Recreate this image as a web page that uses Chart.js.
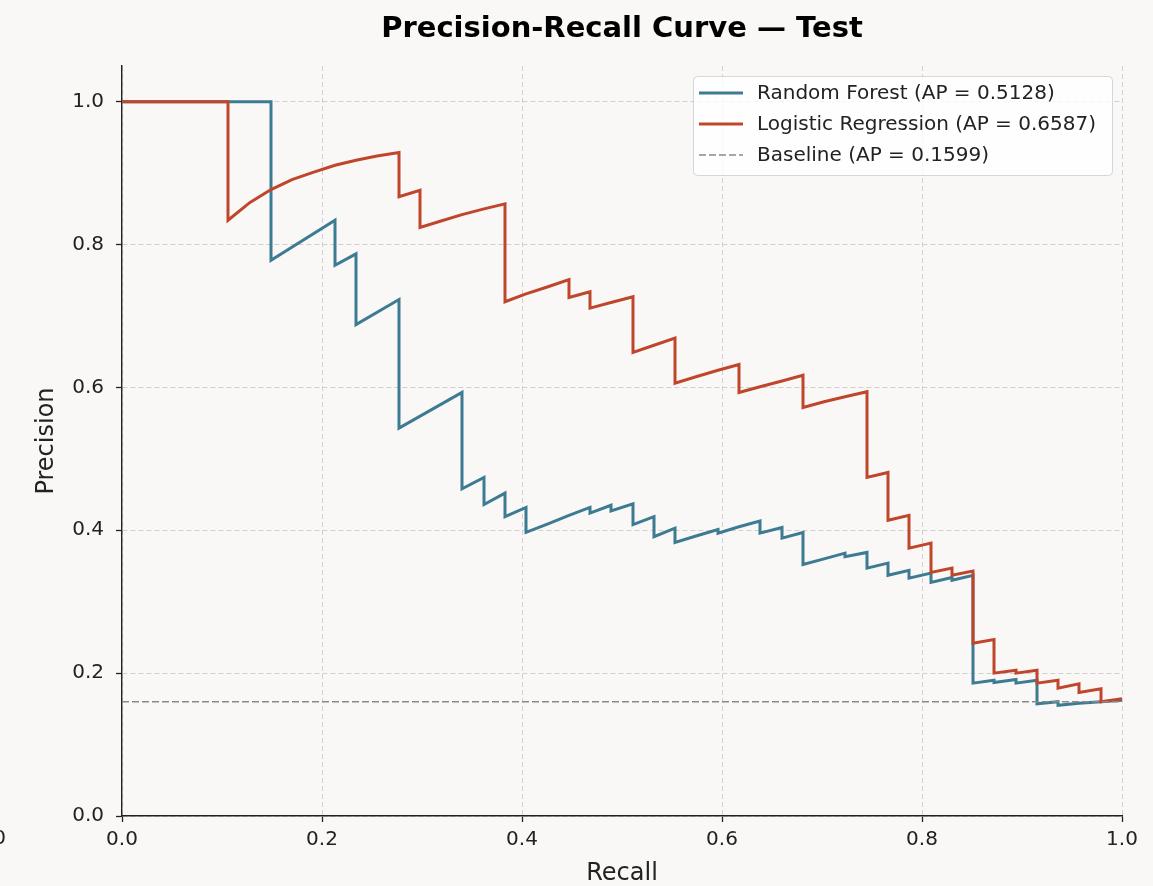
<!DOCTYPE html>
<html>
<head>
<meta charset="utf-8">
<title>Precision-Recall Curve — Test</title>
<script src="https://cdn.jsdelivr.net/npm/chart.js@4.4.1/dist/chart.umd.min.js"></script>
<style>
  html, body { margin: 0; padding: 0; background: #f9f8f7; }
  #prChart { display: block; }
</style>
</head>
<body>
<canvas id="prChart" width="1153" height="886"></canvas>
<script>
// Values
const xTickValues = [0, 0.2, 0.4, 0.6, 0.8, 1.0];
const yTickValues = [0, 0.2, 0.4, 0.6, 0.8, 1.0];

const rfLabel = 'Random Forest (AP = 0.5128)';
const rfRecall = [0, 0.149, 0.149, 0.213, 0.213, 0.234, 0.234, 0.277, 0.277, 0.340, 0.340, 0.362, 0.362,
  0.383, 0.383, 0.404, 0.404, 0.426, 0.447, 0.468, 0.468, 0.489, 0.489, 0.511, 0.511, 0.532, 0.532,
  0.553, 0.553, 0.574, 0.596, 0.596, 0.617, 0.638, 0.638, 0.660, 0.660, 0.681, 0.681, 0.702, 0.723,
  0.723, 0.745, 0.745, 0.766, 0.766, 0.787, 0.787, 0.809, 0.809, 0.830, 0.830, 0.851, 0.851, 0.872,
  0.872, 0.894, 0.894, 0.915, 0.915, 0.936, 0.936, 0.957, 0.979, 1.0];
const rfPrecision = [1.0, 1.0, 0.778, 0.834, 0.771, 0.787, 0.688, 0.723, 0.543, 0.593, 0.458, 0.474, 0.436,
  0.452, 0.419, 0.432, 0.397, 0.409, 0.421, 0.432, 0.424, 0.435, 0.427, 0.437, 0.408, 0.419, 0.391,
  0.403, 0.383, 0.392, 0.401, 0.396, 0.405, 0.413, 0.396, 0.404, 0.389, 0.397, 0.352, 0.360, 0.368,
  0.363, 0.369, 0.347, 0.354, 0.337, 0.344, 0.333, 0.340, 0.327, 0.334, 0.330, 0.337, 0.186, 0.190,
  0.187, 0.191, 0.186, 0.190, 0.157, 0.160, 0.155, 0.158, 0.160, 0.162];

const lrLabel = 'Logistic Regression (AP = 0.6587)';
const lrRecall = [0, 0.106, 0.106, 0.128, 0.149, 0.170, 0.191, 0.213, 0.234, 0.255, 0.277, 0.277, 0.298,
  0.298, 0.319, 0.340, 0.362, 0.383, 0.383, 0.404, 0.426, 0.447, 0.447, 0.468, 0.468, 0.489, 0.511,
  0.511, 0.532, 0.553, 0.553, 0.574, 0.596, 0.617, 0.617, 0.638, 0.660, 0.681, 0.681, 0.702, 0.723,
  0.745, 0.745, 0.766, 0.766, 0.787, 0.787, 0.809, 0.809, 0.830, 0.830, 0.851, 0.851, 0.872, 0.872,
  0.894, 0.894, 0.915, 0.915, 0.936, 0.936, 0.957, 0.957, 0.979, 0.979, 1.0];
const lrPrecision = [1.0, 1.0, 0.834, 0.859, 0.877, 0.891, 0.901, 0.911, 0.918, 0.924, 0.929, 0.867, 0.876,
  0.824, 0.833, 0.842, 0.850, 0.857, 0.720, 0.731, 0.741, 0.751, 0.726, 0.734, 0.711, 0.719, 0.727,
  0.649, 0.659, 0.669, 0.606, 0.615, 0.624, 0.632, 0.593, 0.601, 0.609, 0.617, 0.572, 0.580, 0.587,
  0.594, 0.474, 0.481, 0.414, 0.421, 0.375, 0.382, 0.341, 0.347, 0.337, 0.343, 0.242, 0.247, 0.200,
  0.204, 0.200, 0.204, 0.186, 0.190, 0.179, 0.185, 0.173, 0.178, 0.160, 0.164];

const baseLabel = 'Baseline (AP = 0.1599)';
const baseRecall = [0, 1];
const basePrecision = [0.1599, 0.1599];

const chartTitle = 'Precision-Recall Curve — Test';
const FONT = "'DejaVu Sans', sans-serif";

function toPoints(xs, ys) {
  return xs.map((x, i) => ({ x: x, y: ys[i] }));
}

// title centred over the plot area, legend inside the plot, top right
const overlay = {
  id: 'overlay',
  afterDraw(chart) {
    const ctx = chart.ctx;
    const area = chart.chartArea;
    ctx.save();

    ctx.font = 'bold 29px ' + FONT;
    ctx.fillStyle = '#000';
    ctx.textAlign = 'center';
    ctx.textBaseline = 'middle';
    ctx.fillText(chartTitle, (area.left + area.right) / 2, 29);

    const box = { x: 693, y: 76, w: 419, h: 99 };
    ctx.beginPath();
    ctx.roundRect(box.x + 0.5, box.y + 0.5, box.w, box.h, 4);
    ctx.fillStyle = 'rgba(255,255,255,0.8)';
    ctx.fill();
    ctx.strokeStyle = '#d6d6d6';
    ctx.lineWidth = 1;
    ctx.stroke();

    ctx.font = '20px ' + FONT;
    ctx.textAlign = 'left';
    const order = [2, 1, 0];
    order.forEach((dsIndex, row) => {
      const ds = chart.data.datasets[dsIndex];
      const yy = 93 + row * 31;
      ctx.beginPath();
      ctx.setLineDash(ds.borderDash || []);
      ctx.strokeStyle = ds.borderColor;
      ctx.lineWidth = ds.borderWidth;
      ctx.moveTo(699, yy);
      ctx.lineTo(743, yy);
      ctx.stroke();
      ctx.setLineDash([]);
      ctx.fillStyle = '#222';
      ctx.fillText(ds.label, 757, yy + 1);
    });

    // clipped tick label at the left edge of the figure
    ctx.textAlign = 'right';
    ctx.font = '20px ' + FONT;
    ctx.fillStyle = '#222';
    ctx.fillText('1.0', 6, 839);
    ctx.restore();
  }
};

const bgPlugin = {
  id: 'bg',
  beforeDraw(chart) {
    const ctx = chart.ctx;
    ctx.save();
    ctx.fillStyle = '#f9f8f7';
    ctx.fillRect(0, 0, chart.width, chart.height);
    ctx.restore();
  }
};

const gridOpts = {
  color: '#d0d0d0',
  tickColor: '#222',
  tickLength: 6,
  tickBorderDash: [],
  tickWidth: 1.3,
  lineWidth: 1
};

const ctx = document.getElementById('prChart').getContext('2d');
new Chart(ctx, {
  type: 'scatter',
  data: {
    datasets: [
      {
        label: baseLabel,
        data: toPoints(baseRecall, basePrecision),
        showLine: true,
        borderColor: '#8a8a8a',
        borderWidth: 1.6,
        borderDash: [7, 3],
        pointRadius: 0,
        order: 0
      },
      {
        label: lrLabel,
        data: toPoints(lrRecall, lrPrecision),
        showLine: true,
        borderColor: '#c0462b',
        borderWidth: 3,
        pointRadius: 0,
        order: 1
      },
      {
        label: rfLabel,
        data: toPoints(rfRecall, rfPrecision),
        showLine: true,
        borderColor: '#3d7b93',
        borderWidth: 3,
        pointRadius: 0,
        order: 2
      }
    ]
  },
  options: {
    responsive: false,
    animation: false,
    layout: { padding: { left: 0, right: 31, top: 66, bottom: 0 } },
    plugins: {
      legend: { display: false },
      tooltip: { enabled: false },
      title: { display: false }
    },
    scales: {
      x: {
        type: 'linear',
        min: 0,
        max: 1,
        afterBuildTicks: (scale) => { scale.ticks = xTickValues.map(v => ({ value: v })); },
        afterFit: (scale) => { scale.height = 70; },
        ticks: {
          color: '#222',
          font: { family: FONT, size: 20 },
          padding: 6,
          maxRotation: 0,
          callback: (v) => v.toFixed(1)
        },
        grid: gridOpts,
        border: { display: true, color: '#222', width: 1.4, dash: [5, 3] },
        title: {
          display: true,
          text: 'Recall',
          color: '#222',
          font: { family: FONT, size: 24 },
          padding: { top: 0, bottom: -2 }
        }
      },
      y: {
        type: 'linear',
        min: 0,
        max: 1.05,
        afterBuildTicks: (scale) => { scale.ticks = yTickValues.map(v => ({ value: v })); },
        afterFit: (scale) => { scale.width = 122; },
        ticks: {
          color: '#222',
          font: { family: FONT, size: 20 },
          padding: 12,
          callback: (v) => v.toFixed(1)
        },
        grid: gridOpts,
        border: { display: true, color: '#222', width: 1.4, dash: [5, 3] },
        title: {
          display: true,
          text: 'Precision',
          color: '#222',
          font: { family: FONT, size: 24 },
          padding: { top: 32, bottom: 0 }
        }
      }
    }
  },
  plugins: [bgPlugin, overlay]
});
</script>
</body>
</html>
